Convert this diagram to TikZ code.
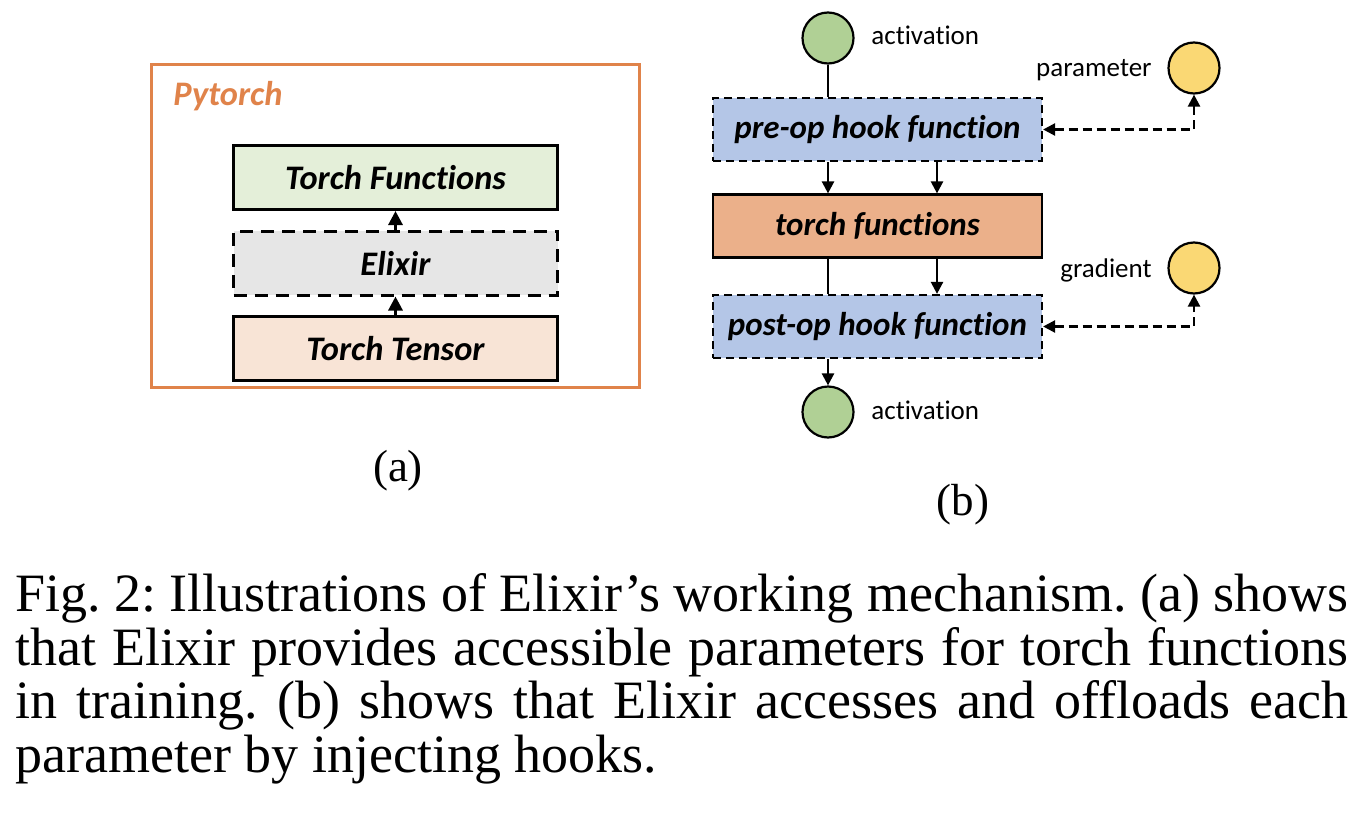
\documentclass[tikz,border=0pt]{standalone}
\usepackage{fontspec}
\setmainfont{Liberation Serif}
\newfontfamily\carlitofont[Ligatures=NoCommon]{Carlito}
\usetikzlibrary{arrows.meta,calc}
\definecolor{ptorange}{HTML}{E0834A}
\definecolor{tfgreen}{HTML}{E4EFD9}
\definecolor{elgray}{HTML}{E6E6E6}
\definecolor{ttpeach}{HTML}{F8E4D6}
\definecolor{hookblue}{HTML}{B4C6E7}
\definecolor{fnorange}{HTML}{EBB08A}
\definecolor{actgreen}{HTML}{B0D095}
\definecolor{paryellow}{HTML}{FAD874}
\tikzset{
  abox/.style={draw=black, line width=1.5pt, minimum width=162pt, minimum height=32pt, inner sep=0pt,
    font=\carlitofont\bfseries\itshape\fontsize{17.2}{20}\selectfont},
  adash/.style={abox, dash pattern=on 6.5pt off 4pt},
  bbox/.style={draw=black, line width=1.1pt, minimum width=164.5pt, minimum height=31.5pt, inner sep=0pt,
    font=\carlitofont\bfseries\itshape\fontsize{16.5}{20}\selectfont},
  bdash/.style={bbox, dash pattern=on 4pt off 2.5pt},
  circ/.style={circle, draw=black, line width=1.1pt, minimum size=25.5pt, inner sep=0pt},
  lbl/.style={inner sep=0pt, font=\carlitofont\fontsize{13.5}{16}\selectfont},
  captext/.style={inner sep=0pt, anchor=base west, font=\fontsize{27}{30}\selectfont},
  aarrow/.style={line width=1.5pt, -{Triangle[length=7pt,width=7pt]}},
  barrow/.style={line width=1.2pt, -{Triangle[length=6pt,width=6pt]}},
  bline/.style={line width=1.2pt},
  darrow/.style={line width=1.2pt, dash pattern=on 4.5pt off 2.5pt, {Triangle[length=6pt,width=6pt]}-{Triangle[length=6pt,width=6pt]}},
}
\begin{document}
\frenchspacing
\begin{tikzpicture}[x=0.5pt,y=-0.5pt]
\useasboundingbox (0,0) rectangle (1364,824);
% (a)
\draw[ptorange, line width=1.5pt] (151.5,64.5) rectangle (639.5,387.5);
\node[anchor=base west, inner sep=0pt, text=ptorange, font=\carlitofont\bfseries\itshape\fontsize{17.2}{20}\selectfont] (pt) at (173,105) {Pytorch};
\node[abox, fill=tfgreen] (tf) at (395.5,177.5) {Torch Functions};
\node[adash, fill=elgray] (el) at (395.5,263) {Elixir};
\node[abox, fill=ttpeach] (tt) at (395.5,348.5) {Torch Tensor};
\draw[aarrow] (el.north) -- (tf.south);
\draw[aarrow] (tt.north) -- (el.south);
\node[anchor=base, inner sep=0pt, font=\fontsize{22.5}{27}\selectfont] (la) at (398,481) {(a)};
% (b)
\node[bdash, fill=hookblue] (pre) at (877.5,129.5) {pre-op hook function};
\node[bbox, fill=fnorange] (fn) at (877.5,226) {torch functions};
\node[bdash, fill=hookblue] (post) at (877.5,326.5) {post-op hook function};
\node[circ, fill=actgreen] (a1) at (828,38) {};
\node[circ, fill=actgreen] (a2) at (828,412) {};
\node[circ, fill=paryellow] (par) at (1194,68) {};
\node[circ, fill=paryellow] (gr) at (1194,268) {};
\node[lbl, anchor=base west] (la1) at (871,45) {activation};
\node[lbl, anchor=base west] (la2) at (871,419) {activation};
\node[lbl, anchor=base east] (lpar) at (1152,77) {parameter};
\node[lbl, anchor=base east] (lgr) at (1152,277) {gradient};
\coordinate (r) at (937,0);
\draw[bline] (a1.south) -- (a1.south |- pre.north);
\draw[barrow] (a1.south |- pre.south) -- (a1.south |- fn.north);
\draw[barrow] (r |- pre.south) -- (r |- fn.north);
\draw[bline] (a1.south |- fn.south) -- (a1.south |- post.north);
\draw[barrow] (r |- fn.south) -- (r |- post.north);
\draw[barrow] (a1.south |- post.south) -- (a2.north);
\draw[darrow] (pre.east) -| (par.south);
\draw[darrow] (post.east) -| (gr.south);
\node[anchor=base, inner sep=0pt, font=\fontsize{22.5}{27}\selectfont] (lb) at (963,515) {(b)};
% caption
\node[captext] (c1) at (15,611) {\makebox[666.5pt][s]{Fig. 2: Illustrations of Elixir’s working mechanism. (a) shows}};
\node[captext] (c2) at (15,665) {\makebox[666.5pt][s]{that Elixir provides accessible parameters for torch functions}};
\node[captext] (c3) at (15,718) {\makebox[666.5pt][s]{in training. (b) shows that Elixir accesses and offloads each}};
\node[captext] (c4) at (15,772) {parameter by injecting hooks.};
\end{tikzpicture}
\end{document}
